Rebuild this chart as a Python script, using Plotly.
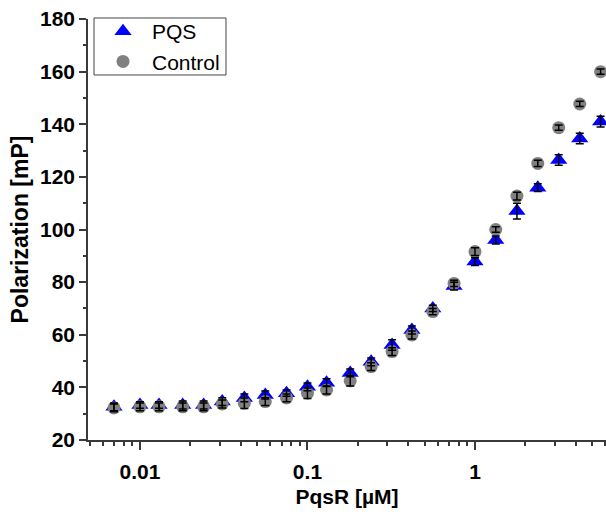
import plotly.graph_objects as go

# PqsR concentration series (µM)
conc = [0.007, 0.01, 0.013, 0.018, 0.024, 0.031, 0.042, 0.056, 0.075, 0.1,
        0.13, 0.18, 0.24, 0.32, 0.42, 0.56, 0.75, 1.0, 1.33, 1.78,
        2.37, 3.16, 4.22, 5.62]

# Fluorescence polarization (mP) with PQS
pqs_mean = [32.6, 33.3, 33.3, 33.3, 33.3, 34.6, 36.0, 37.1, 37.8, 40.2,
            41.8, 45.5, 49.7, 56.1, 61.8, 70.0, 78.5, 87.8, 96.0, 107.0,
            115.9, 126.4, 134.6, 141.0]
pqs_err = [1.5, 1.2, 1.2, 1.5, 1.5, 1.5, 1.5, 1.5, 1.2, 1.5,
           1.5, 1.5, 1.5, 2.0, 1.5, 1.2, 1.5, 1.5, 1.5, 3.0,
           1.5, 2.0, 2.0, 2.0]

# Fluorescence polarization (mP) control
ctrl_mean = [32.2, 32.6, 32.6, 32.6, 32.6, 33.7, 34.0, 34.6, 36.0, 37.8,
             39.0, 42.5, 47.9, 53.6, 59.9, 68.8, 79.5, 91.6, 100.0, 112.7,
             125.1, 138.7, 147.7, 160.0]
ctrl_err = [1.5, 1.5, 1.5, 1.5, 1.5, 1.5, 2.0, 1.5, 1.5, 2.0,
            1.5, 2.0, 1.5, 1.5, 1.5, 1.2, 1.2, 1.5, 1.0, 1.5,
            1.2, 1.0, 1.0, 1.0]

x_tickvals = [0.01, 0.1, 1]
x_ticktext = ["0.01", "0.1", "1"]
x_minor = [0.005, 0.006, 0.007, 0.008, 0.009,
           0.02, 0.03, 0.04, 0.05, 0.06, 0.07, 0.08, 0.09,
           0.2, 0.3, 0.4, 0.5, 0.6, 0.7, 0.8, 0.9,
           2, 3, 4, 5, 6]
y_tickvals = [20, 40, 60, 80, 100, 120, 140, 160, 180]

FONT = "Liberation Sans, Arial, sans-serif"
AXIS = "#3a3a3a"

fig = go.Figure()

fig.add_trace(go.Scatter(
    x=conc, y=pqs_mean, mode="markers", name="PQS",
    marker=dict(symbol="triangle-up", size=15, color="#0000ff",
                line=dict(width=0)),
))
fig.add_trace(go.Scatter(
    x=conc, y=ctrl_mean, mode="markers", name="Control",
    marker=dict(symbol="circle", size=13, color="#808080",
                line=dict(width=0)),
))

# error bars drawn on top of both marker layers
for means, errs in ((pqs_mean, pqs_err), (ctrl_mean, ctrl_err)):
    fig.add_trace(go.Scatter(
        x=conc, y=means, mode="markers", showlegend=False, hoverinfo="skip",
        marker=dict(size=1, opacity=0),
        error_y=dict(type="data", array=errs, visible=True,
                     color="#000000", thickness=1.5, width=4),
    ))

# compact frame around the legend entries
fig.add_shape(
    type="rect", xref="paper", yref="paper",
    x0=0.0116, x1=0.2664, y0=0.867, y1=1.0024,
    line=dict(color="#444444", width=1), fillcolor="rgba(0,0,0,0)",
    layer="above",
)

fig.update_layout(
    width=606, height=515,
    margin=dict(l=88, r=0, t=19, b=75),
    paper_bgcolor="white", plot_bgcolor="white",
    font=dict(family=FONT, color="black", size=21),
    showlegend=True,
    legend=dict(
        x=0.0116, y=1.019, xanchor="left", yanchor="top",
        borderwidth=0, bgcolor="rgba(0,0,0,0)",
        font=dict(family=FONT, size=21, color="black"),
        itemwidth=48, tracegroupgap=0,
    ),
    xaxis=dict(
        type="log", range=[-2.310, 0.782],
        tickmode="array", tickvals=x_tickvals, ticktext=x_ticktext,
        ticks="outside", ticklen=8, tickwidth=1.5, tickcolor=AXIS,
        ticklabelstandoff=4,
        showline=True, linecolor=AXIS, linewidth=1.5,
        showgrid=False, zeroline=False,
        tickfont=dict(family=FONT, size=21, weight="bold", color="black"),
        minor=dict(tickmode="array", tickvals=x_minor, ticks="outside",
                   ticklen=4, tickwidth=1.5, tickcolor=AXIS, showgrid=False),
        title=dict(text="PqsR [µM]",
                   font=dict(family=FONT, size=21, weight="bold", color="black"),
                   standoff=7),
    ),
    yaxis=dict(
        range=[20, 180],
        tickmode="array", tickvals=y_tickvals,
        ticks="outside", ticklen=7, tickwidth=1.5, tickcolor=AXIS,
        showline=True, linecolor=AXIS, linewidth=1.5,
        showgrid=False, zeroline=False,
        tickfont=dict(family=FONT, size=21, weight="bold", color="black"),
        minor=dict(dtick=10, ticks="outside", ticklen=3, tickwidth=1.5,
                   tickcolor=AXIS, showgrid=False),
        title=dict(text="Polarization [mP]",
                   font=dict(family=FONT, size=23, weight="bold", color="black"),
                   standoff=5),
    ),
)

fig.write_html("out.html")
